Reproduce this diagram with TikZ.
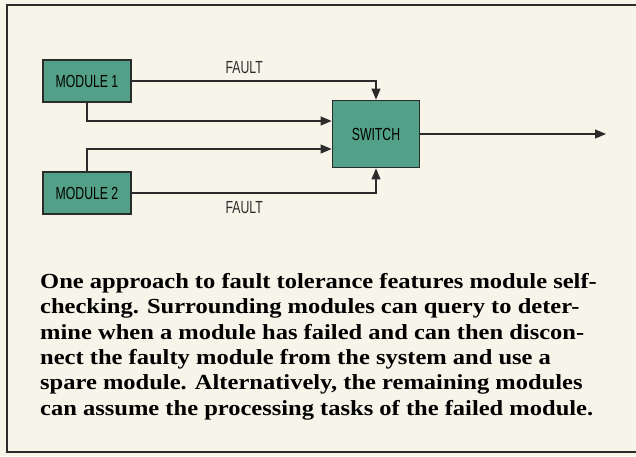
\documentclass[tikz,border=0pt]{standalone}
\usepackage{fontspec}
\setmainfont{Liberation Serif}
\newfontfamily\boxfont[FakeStretch=0.70]{Liberation Sans}
\newfontfamily\capfont[FakeStretch=1.14]{Liberation Serif}
\usetikzlibrary{arrows.meta,positioning}
\definecolor{PageCream}{HTML}{F7F4EA}
\definecolor{ModTeal}{HTML}{52A087}
\definecolor{InkGray}{HTML}{2B2B2B}

\begin{document}
\begin{tikzpicture}[
  x=1pt,y=-1pt,
  every node/.style={inner sep=0pt},
  module/.style={draw=InkGray,fill=ModTeal,line width=1.8pt,minimum width=88pt,
                 minimum height=42pt,font=\boxfont\fontsize{17.5}{17.5}\selectfont},
  switchbox/.style={module,minimum width=87pt,minimum height=67pt},
  lbl/.style={font=\boxfont\fontsize{17.5}{17.5}\selectfont,text=InkGray},
  arr/.style={-{Triangle[length=11pt,width=9pt]},line width=1.1pt,draw=InkGray}
]
  \fill[PageCream] (0,0) rectangle (636,456);
  \useasboundingbox (0,0) rectangle (636,456);
  % frame, open on the right
  \draw[InkGray,line width=2.2pt] (640,5) -- (7,5) -- (7,452) -- (640,452);

  \node[module] (mod1) at (87,81) {MODULE 1};
  \node[module] (mod2) at (87,193) {MODULE 2};
  \node[switchbox] (switch) at (376,134) {SWITCH};
  \coordinate (out) at (606,134);

  \draw[arr] (mod1.east) -| node[lbl,pos=0.23,above=7pt] {FAULT} (switch.north);
  \draw[arr] (mod2.east) -| node[lbl,pos=0.23,below=8pt] {FAULT} (switch.south);
  \draw[arr] (mod1.south) |- ([yshift=13pt]switch.west);
  \draw[arr] (mod2.north) |- ([yshift=-15pt]switch.west);
  \draw[arr] (switch.east) -- (out);

  \node[anchor=north west,align=left,font=\capfont\bfseries\fontsize{21.5}{25.4}\selectfont]
    (caption) at (40,273)
    {One approach to fault tolerance features module self-\\
     checking. Surrounding modules can query to deter-\\
     mine when a module has failed and can then discon-\\
     nect the faulty module from the system and use a\\
     spare module. Alternatively, the remaining modules\\
     can assume the processing tasks of the failed module.};
\end{tikzpicture}
\end{document}
